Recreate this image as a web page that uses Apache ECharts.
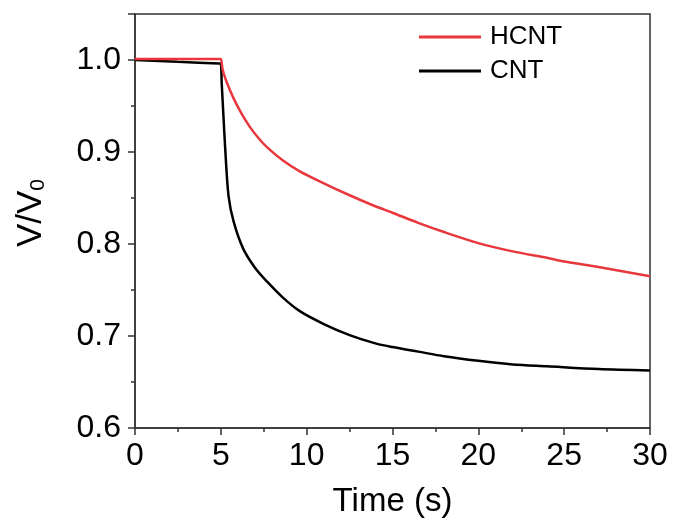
<!DOCTYPE html>
<html>
<head>
<meta charset="utf-8">
<script src="https://cdn.jsdelivr.net/npm/echarts@6/dist/echarts.min.js"></script>
<style>html,body{margin:0;padding:0;background:#fff}#c{width:675px;height:523px}</style>
</head>
<body>
<div id="c"></div>
<script>
const seriesNames = ['HCNT', 'CNT'];
const hcntData = [[0,1.001],[2.5,1.001],[4.9,1.001],[5,1.001],[5.1,0.99],[5.3,0.978],[5.75,0.958],[6.2,0.942],[6.7,0.927],[7.2,0.915],[7.7,0.905],[8.6,0.891],[9.6,0.879],[11,0.866],[12.5,0.853],[14,0.841],[15,0.834],[16.5,0.823],[18,0.813],[20,0.801],[22,0.792],[24,0.785],[25,0.781],[27,0.775],[30,0.765]];
const cntData = [[0,1.0],[2.5,0.998],[4.9,0.9962],[5,0.996],[5.05,0.975],[5.15,0.94],[5.25,0.905],[5.45,0.852],[5.75,0.824],[6.3,0.795],[7,0.774],[7.7,0.759],[8.6,0.742],[9.6,0.727],[11,0.713],[12.5,0.701],[14,0.692],[15,0.688],[16.5,0.683],[18,0.678],[20,0.673],[22,0.669],[24,0.667],[27,0.664],[30,0.6625]];
const xTicks = [0, 5, 10, 15, 20, 25, 30];
const yTicks = [0.6, 0.7, 0.8, 0.9, 1.0];

const FONT = '"Liberation Sans", Arial, sans-serif';
const chart = echarts.init(document.getElementById('c'));
chart.setOption({
  animation: false,
  backgroundColor: '#fff',
  grid: {left: 135, right: 25, top: 14, bottom: 94, show: true, borderColor: '#333', borderWidth: 1.5, backgroundColor: 'transparent'},
  legend: {
    orient: 'vertical', left: 414, top: 19, itemGap: 8,
    icon: 'rect', itemWidth: 62, itemHeight: 3,
    textStyle: {fontFamily: FONT, fontSize: 26, color: '#000', padding: [0,0,0,4]},
    data: seriesNames
  },
  xAxis: {
    type: 'value', min: xTicks[0], max: xTicks[xTicks.length-1], interval: 5,
    name: 'Time (s)', nameLocation: 'middle', nameGap: 57,
    nameTextStyle: {fontFamily: FONT, fontSize: 33, color: '#000'},
    axisLine: {show: true, lineStyle: {color: '#333', width: 1.5}},
    axisTick: {show: true, length: 7, lineStyle: {color: '#333', width: 1.5}},
    minorTick: {show: true, splitNumber: 2, length: 4, lineStyle: {color: '#333', width: 1.5}},
    splitLine: {show: false},
    axisLabel: {fontFamily: FONT, fontSize: 32, color: '#000', margin: 12}
  },
  yAxis: {
    type: 'value', min: yTicks[0], max: 1.05, interval: 0.1,
    name: 'V/V{s|0}', nameLocation: 'middle', nameGap: 86,
    nameTextStyle: {fontFamily: FONT, fontSize: 35, color: '#000', padding: [0,0,0,16], rich: {s: {fontFamily: FONT, fontSize: 21, color: '#000', verticalAlign: 'bottom', padding: [12,0,0,0]}}},
    axisLine: {show: true, lineStyle: {color: '#333', width: 1.5}},
    axisTick: {show: true, length: 7, lineStyle: {color: '#333', width: 1.5}},
    minorTick: {show: true, splitNumber: 2, length: 4, lineStyle: {color: '#333', width: 1.5}},
    splitLine: {show: false},
    axisLabel: {fontFamily: FONT, fontSize: 32, color: '#000', margin: 14, formatter: v => v.toFixed(1), showMaxLabel: false}
  },
  series: [
    {name: seriesNames[0], type: 'line', data: hcntData, showSymbol: false, smooth: 0.3, lineStyle: {color: '#e8383d', width: 2.5}, itemStyle: {color: '#e8383d'}, z: 3},
    {name: seriesNames[1], type: 'line', data: cntData, showSymbol: false, smooth: 0.3, lineStyle: {color: '#000', width: 2.5}, itemStyle: {color: '#000'}, z: 2}
  ]
});
</script>
</body>
</html>
